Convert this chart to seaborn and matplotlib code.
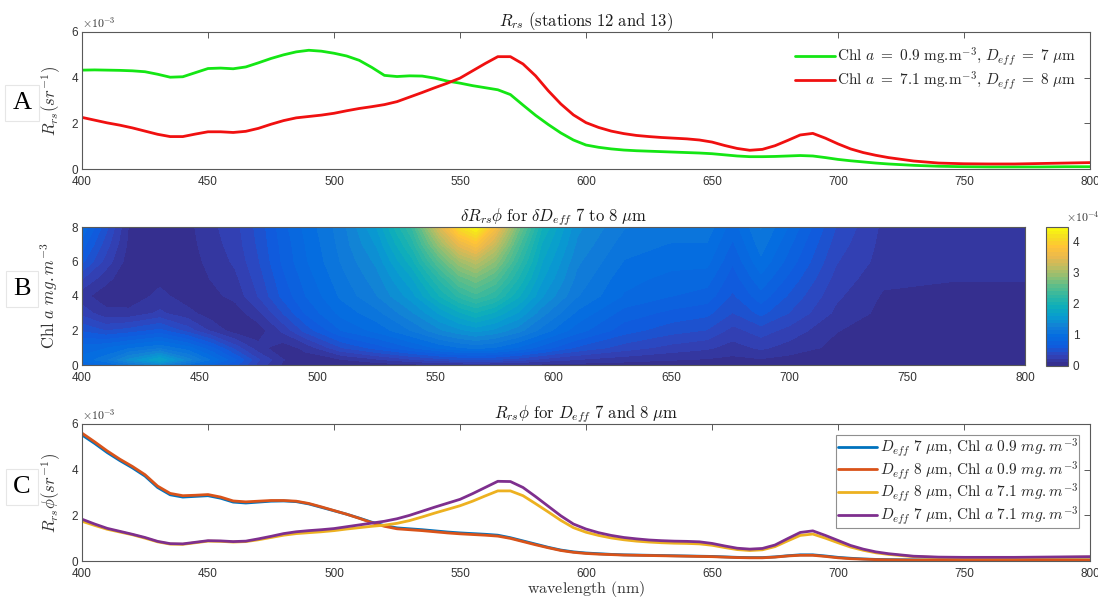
import numpy as np
import pandas as pd
import matplotlib
matplotlib.use("Agg")
import matplotlib.pyplot as plt
from matplotlib.colors import LinearSegmentedColormap
import seaborn as sns

# ---------------- data ----------------
wl = [400, 405, 410, 415, 420, 425, 430, 435, 440, 445, 450, 455, 460, 465, 470, 475,
      480, 485, 490, 495, 500, 505, 510, 515, 520, 525, 530, 535, 540, 545, 550, 555,
      560, 565, 570, 575, 580, 585, 590, 595, 600, 605, 610, 615, 620, 625, 630, 635,
      640, 645, 650, 655, 660, 665, 670, 675, 680, 685, 690, 695, 700, 705, 710, 715,
      720, 730, 740, 750, 760, 770, 780, 790, 800]

# Panel A (x1e-3)
rrs_chl09 = [4.33, 4.34, 4.33, 4.32, 4.30, 4.26, 4.15, 4.02, 4.04, 4.22, 4.40, 4.42, 4.39, 4.47, 4.65, 4.84,
             5.00, 5.13, 5.20, 5.16, 5.07, 4.95, 4.76, 4.45, 4.10, 4.05, 4.08, 4.07, 3.98, 3.85, 3.76, 3.65,
             3.56, 3.47, 3.26, 2.80, 2.35, 1.95, 1.58, 1.27, 1.05, 0.95, 0.88, 0.83, 0.80, 0.78, 0.76, 0.74,
             0.72, 0.70, 0.67, 0.62, 0.57, 0.54, 0.54, 0.55, 0.57, 0.59, 0.57, 0.50, 0.42, 0.36, 0.31, 0.26,
             0.22, 0.16, 0.12, 0.10, 0.09, 0.09, 0.09, 0.10, 0.10]
rrs_chl71 = [2.26, 2.14, 2.02, 1.92, 1.80, 1.66, 1.52, 1.42, 1.42, 1.53, 1.63, 1.63, 1.60, 1.65, 1.78, 1.96,
             2.12, 2.24, 2.30, 2.36, 2.44, 2.55, 2.65, 2.73, 2.82, 2.95, 3.15, 3.35, 3.56, 3.76, 3.98, 4.30,
             4.62, 4.92, 4.92, 4.60, 4.08, 3.43, 2.85, 2.37, 2.03, 1.82, 1.66, 1.55, 1.47, 1.42, 1.38, 1.35,
             1.32, 1.27, 1.18, 1.03, 0.90, 0.82, 0.86, 1.02, 1.25, 1.49, 1.56, 1.35, 1.10, 0.88, 0.72, 0.60,
             0.50, 0.35, 0.26, 0.23, 0.22, 0.22, 0.24, 0.26, 0.28]

# Panel C (x1e-3)
c_d7_chl09 = [5.52, 5.15, 4.75, 4.40, 4.08, 3.72, 3.22, 2.90, 2.80, 2.83, 2.86, 2.75, 2.58, 2.54, 2.58, 2.62,
              2.63, 2.60, 2.50, 2.35, 2.20, 2.05, 1.88, 1.70, 1.55, 1.45, 1.41, 1.37, 1.32, 1.27, 1.23, 1.20,
              1.17, 1.13, 1.02, 0.88, 0.74, 0.60, 0.48, 0.40, 0.35, 0.32, 0.29, 0.27, 0.26, 0.25, 0.24, 0.23,
              0.22, 0.21, 0.20, 0.18, 0.16, 0.15, 0.15, 0.18, 0.23, 0.27, 0.27, 0.22, 0.16, 0.12, 0.09, 0.07,
              0.06, 0.05, 0.05, 0.05, 0.05, 0.05, 0.05, 0.05, 0.05]
c_d8_chl09 = [5.60, 5.22, 4.82, 4.46, 4.14, 3.78, 3.28, 2.96, 2.86, 2.88, 2.91, 2.80, 2.63, 2.59, 2.62, 2.65,
              2.65, 2.62, 2.52, 2.37, 2.21, 2.05, 1.87, 1.68, 1.52, 1.41, 1.37, 1.33, 1.28, 1.23, 1.19, 1.16,
              1.13, 1.09, 0.99, 0.85, 0.71, 0.58, 0.46, 0.38, 0.33, 0.30, 0.28, 0.26, 0.25, 0.24, 0.23, 0.22,
              0.21, 0.20, 0.19, 0.17, 0.15, 0.14, 0.14, 0.17, 0.22, 0.25, 0.25, 0.20, 0.14, 0.10, 0.08, 0.06,
              0.05, 0.04, 0.04, 0.04, 0.04, 0.04, 0.04, 0.04, 0.04]
c_d8_chl71 = [1.74, 1.56, 1.39, 1.27, 1.15, 1.00, 0.84, 0.74, 0.73, 0.80, 0.87, 0.86, 0.83, 0.85, 0.93, 1.03,
              1.13, 1.20, 1.24, 1.28, 1.33, 1.40, 1.46, 1.52, 1.57, 1.65, 1.77, 1.93, 2.10, 2.26, 2.42, 2.62,
              2.85, 3.07, 3.07, 2.86, 2.51, 2.15, 1.78, 1.46, 1.26, 1.12, 1.01, 0.93, 0.87, 0.83, 0.80, 0.78,
              0.77, 0.75, 0.69, 0.59, 0.50, 0.46, 0.49, 0.63, 0.88, 1.12, 1.18, 1.00, 0.80, 0.61, 0.47, 0.36,
              0.29, 0.19, 0.15, 0.14, 0.14, 0.14, 0.15, 0.16, 0.17]
c_d7_chl71 = [1.83, 1.62, 1.43, 1.30, 1.17, 1.03, 0.86, 0.76, 0.75, 0.82, 0.89, 0.88, 0.85, 0.87, 0.97, 1.08,
              1.20, 1.28, 1.33, 1.37, 1.42, 1.50, 1.58, 1.66, 1.74, 1.85, 2.00, 2.18, 2.36, 2.53, 2.70, 2.95,
              3.22, 3.49, 3.48, 3.22, 2.82, 2.40, 1.98, 1.62, 1.40, 1.24, 1.12, 1.03, 0.97, 0.92, 0.89, 0.87,
              0.86, 0.84, 0.77, 0.66, 0.56, 0.52, 0.55, 0.70, 0.98, 1.25, 1.32, 1.12, 0.90, 0.68, 0.52, 0.40,
              0.32, 0.21, 0.17, 0.16, 0.16, 0.16, 0.17, 0.18, 0.19]

# Panel B (x1e-4): rows = chl levels (bottom to top), columns = wavelengths
wl_b = [400, 410, 420, 433, 445, 455, 465, 475, 485, 495, 510, 525, 540, 552, 560, 567, 575, 585,
        595, 610, 630, 650, 665, 676, 688, 700, 720, 740, 770, 800]
chl_b = [0, 0.3, 1, 2, 3, 4, 5, 6, 7, 8]
d_rrs = [
    [0.80, 0.90, 1.10, 1.30, 1.00, 0.80, 0.60, 0.30, 0.10, 0.03, 0.03, 0.04, 0.06, 0.08, 0.09, 0.10, 0.09, 0.08,
     0.07, 0.06, 0.05, 0.04, 0.04, 0.03, 0.04, 0.03, 0.03, 0.02, 0.02, 0.02],
    [0.95, 1.10, 1.40, 1.70, 1.30, 1.00, 0.70, 0.35, 0.12, 0.05, 0.10, 0.20, 0.32, 0.40, 0.44, 0.46, 0.44, 0.38,
     0.30, 0.22, 0.16, 0.12, 0.10, 0.08, 0.10, 0.07, 0.04, 0.02, 0.02, 0.02],
    [0.85, 0.90, 1.00, 1.10, 0.95, 0.70, 0.40, 0.15, 0.05, 0.15, 0.45, 0.62, 0.80, 0.95, 1.02, 1.06, 1.02, 0.90,
     0.75, 0.55, 0.40, 0.30, 0.25, 0.18, 0.25, 0.18, 0.08, 0.03, 0.03, 0.03],
    [0.55, 0.45, 0.50, 0.60, 0.40, 0.20, 0.05, 0.05, 0.25, 0.50, 0.80, 0.95, 1.15, 1.35, 1.45, 1.52, 1.45, 1.30,
     1.10, 0.85, 0.62, 0.50, 0.45, 0.30, 0.40, 0.30, 0.12, 0.05, 0.04, 0.04],
    [0.30, 0.15, 0.15, 0.25, 0.15, 0.05, 0.05, 0.20, 0.45, 0.70, 0.95, 1.10, 1.35, 1.62, 1.80, 1.92, 1.80, 1.58,
     1.30, 1.00, 0.75, 0.65, 0.60, 0.45, 0.60, 0.45, 0.20, 0.08, 0.05, 0.05],
    [0.15, 0.05, 0.03, 0.15, 0.05, 0.08, 0.15, 0.35, 0.60, 0.80, 1.05, 1.25, 1.55, 1.95, 2.20, 2.35, 2.20, 1.85,
     1.50, 1.15, 0.90, 0.80, 0.75, 0.55, 0.75, 0.55, 0.25, 0.10, 0.08, 0.08],
    [0.35, 0.15, 0.03, 0.08, 0.05, 0.12, 0.20, 0.40, 0.65, 0.85, 1.10, 1.32, 1.70, 2.20, 2.55, 2.70, 2.50, 2.05,
     1.62, 1.22, 0.95, 0.88, 0.85, 0.62, 0.88, 0.65, 0.30, 0.14, 0.12, 0.12],
    [0.60, 0.30, 0.05, 0.03, 0.06, 0.15, 0.25, 0.45, 0.70, 0.90, 1.15, 1.40, 1.90, 2.55, 2.95, 3.15, 2.85, 2.25,
     1.72, 1.28, 1.02, 0.95, 0.95, 0.70, 1.00, 0.75, 0.35, 0.18, 0.15, 0.15],
    [0.75, 0.40, 0.08, 0.03, 0.07, 0.18, 0.28, 0.48, 0.72, 0.92, 1.18, 1.50, 2.10, 2.95, 3.50, 3.75, 3.25, 2.45,
     1.82, 1.35, 1.08, 1.02, 1.02, 0.78, 1.08, 0.82, 0.40, 0.19, 0.18, 0.18],
    [0.90, 0.50, 0.10, 0.03, 0.08, 0.20, 0.30, 0.50, 0.75, 0.95, 1.20, 1.60, 2.30, 3.40, 4.10, 4.40, 3.70, 2.70,
     1.95, 1.40, 1.15, 1.10, 1.10, 0.85, 1.15, 0.90, 0.45, 0.20, 0.20, 0.20],
]

labels_a = [r'$\mathrm{Chl}\ a\ =\ 0.9\ \mathrm{mg}.\!\mathrm{m}^{-3}{,}\ D_{eff}\ =\ 7\ \mu\mathrm{m}$',
            r'$\mathrm{Chl}\ a\ =\ 7.1\ \mathrm{mg}.\!\mathrm{m}^{-3}{,}\ D_{eff}\ =\ 8\ \mu\mathrm{m}$']
labels_c = [r'$D_{eff}\ 7\ \mu\mathrm{m}{,}\ \mathrm{Chl}\ a\ 0.9\ mg{.}m^{-3}$',
            r'$D_{eff}\ 8\ \mu\mathrm{m}{,}\ \mathrm{Chl}\ a\ 0.9\ mg{.}m^{-3}$',
            r'$D_{eff}\ 8\ \mu\mathrm{m}{,}\ \mathrm{Chl}\ a\ 7.1\ mg{.}m^{-3}$',
            r'$D_{eff}\ 7\ \mu\mathrm{m}{,}\ \mathrm{Chl}\ a\ 7.1\ mg{.}m^{-3}$']

# ---------------- style ----------------
sns.set_theme(style="white")
plt.rcParams['font.family'] = ['Liberation Sans', 'DejaVu Sans']
plt.rcParams['mathtext.fontset'] = 'cm'

parula_pts = [
    (0.2081, 0.1663, 0.5292), (0.1959, 0.2645, 0.7279), (0.0591, 0.3598, 0.8683),
    (0.0165, 0.4266, 0.8786), (0.0779, 0.5040, 0.8384), (0.0265, 0.6137, 0.8135),
    (0.0590, 0.6838, 0.7254), (0.1801, 0.7177, 0.6424), (0.3482, 0.7424, 0.5473),
    (0.5709, 0.7485, 0.4494), (0.7525, 0.7384, 0.3768), (0.9140, 0.7258, 0.3063),
    (0.9990, 0.7653, 0.2164), (0.9626, 0.8705, 0.1309), (0.9763, 0.9831, 0.0538)]
parula = LinearSegmentedColormap.from_list("parula", parula_pts)

AX_COL = '0.35'
TICK_COL = '0.2'

fig = plt.figure(figsize=(10.98, 6.01), dpi=100)
W, H = 1098, 601

def frac(l, r, t, b):
    return [l / W, 1 - b / H, (r - l) / W, (b - t) / H]

axA = fig.add_axes(frac(82, 1090, 32, 169))
axB = fig.add_axes(frac(82, 1025, 227, 365))
cax = fig.add_axes(frac(1046, 1068, 227, 366))
axC = fig.add_axes(frac(82, 1090, 424, 561))

def style_ax(ax):
    for s in ax.spines.values():
        s.set_color(AX_COL)
        s.set_linewidth(0.8)
    ax.tick_params(direction='in', top=True, right=True, length=4, width=0.7,
                   color=AX_COL, labelcolor=TICK_COL, labelsize=8.5, pad=3)
    ax.tick_params(axis='x', pad=5)
    ax.set_xlim(400, 800)
    ax.set_xticks([400, 450, 500, 550, 600, 650, 700, 750, 800])

# ---- Panel A ----
dfA = pd.DataFrame({'wl': wl, 'g': np.array(rrs_chl09) * 1e-3, 'r': np.array(rrs_chl71) * 1e-3})
sns.lineplot(data=dfA, x='wl', y='g', ax=axA, color='#14e614', lw=2.0, label=labels_a[0])
sns.lineplot(data=dfA, x='wl', y='r', ax=axA, color='#f01010', lw=2.0, label=labels_a[1])
style_ax(axA)
axA.set_ylim(0, 6e-3)
axA.set_yticks([0, 2e-3, 4e-3, 6e-3])
axA.set_yticklabels(['0', '2', '4', '6'])
axA.set_xlabel('')
axA.set_ylabel(r'$R_{rs}(sr^{-1})$', fontsize=12, color='0.2', labelpad=6)
axA.set_title(r'$R_{rs}\ \mathrm{(stations\ 12\ and\ 13)}$', fontsize=12, color='0.1', pad=4)
axA.text(0.0, 1.012, r'$\times10^{-3}$', transform=axA.transAxes, fontsize=8.5,
         color=TICK_COL, family='DejaVu Sans', va='bottom')
axA.legend(loc='upper right', frameon=False, fontsize=11, handlelength=2.6,
           handletextpad=0.15, borderaxespad=0.5, labelspacing=0.05)

# ---- Panel B ----
Z = np.array(d_rrs) * 1e-4
levels = np.linspace(0, 4.45e-4, 40)
cs = axB.contourf(wl_b, chl_b, Z, levels=levels, cmap=parula)
style_ax(axB)
axB.set_ylim(0, 8)
axB.set_yticks([0, 2, 4, 6, 8])
axB.set_ylabel(r'$\mathrm{Chl}\ a\ mg.m^{-3}$', fontsize=12, color='0.2', labelpad=8)
axB.set_title(r'$\delta R_{rs}\phi\ \mathrm{for}\ \delta D_{eff}\ \mathrm{7\ to\ 8}\ \mu\mathrm{m}$',
              fontsize=12, color='0.1', pad=4)
cb = fig.colorbar(cs, cax=cax, ticks=[0, 1e-4, 2e-4, 3e-4, 4e-4])
cb.ax.set_yticklabels(['0', '1', '2', '3', '4'])
cb.outline.set_edgecolor(AX_COL)
cb.outline.set_linewidth(0.8)
cax.tick_params(direction='in', length=3, width=0.6, color=AX_COL, labelcolor=TICK_COL, labelsize=8.5)
cax.text(0.9, 1.02, r'$\times10^{-4}$', transform=cax.transAxes, fontsize=8.5,
         color=TICK_COL, va='bottom')

# ---- Panel C ----
dfC = pd.DataFrame({'wl': wl,
                    'a': np.array(c_d7_chl09) * 1e-3, 'b': np.array(c_d8_chl09) * 1e-3,
                    'c': np.array(c_d8_chl71) * 1e-3, 'd': np.array(c_d7_chl71) * 1e-3})
colsC = ['#0072BD', '#D95319', '#EDB120', '#7E2F8E']
for key, col, lab in zip(['a', 'b', 'c', 'd'], colsC, labels_c):
    sns.lineplot(data=dfC, x='wl', y=key, ax=axC, color=col, lw=2.0, label=lab)
style_ax(axC)
axC.set_ylim(0, 6e-3)
axC.set_yticks([0, 2e-3, 4e-3, 6e-3])
axC.set_yticklabels(['0', '2', '4', '6'])
axC.set_xlabel(r'$\mathrm{wavelength\ (nm)}$', fontsize=11.5, color='0.2', labelpad=-1)
axC.set_ylabel(r'$R_{rs}\phi(sr^{-1})$', fontsize=12, color='0.2', labelpad=6)
axC.set_title(r'$R_{rs}\phi\ \mathrm{for}\ D_{eff}\ \mathrm{7\ and\ 8}\ \mu\mathrm{m}$',
              fontsize=12, color='0.1', pad=4)
axC.text(0.0, 1.012, r'$\times10^{-3}$', transform=axC.transAxes, fontsize=8.5,
         color=TICK_COL, family='DejaVu Sans', va='bottom')
legC = axC.legend(loc='upper right', frameon=True, fancybox=False, fontsize=11,
                  handlelength=2.6, handletextpad=0.15, borderaxespad=0.7,
                  labelspacing=0.0, borderpad=0.1)
legC.get_frame().set_edgecolor('0.45')
legC.get_frame().set_linewidth(0.8)

# ---- panel letters ----
for letter, yc in [('A', 103), ('B', 289), ('C', 487)]:
    fig.text(22 / W, 1 - yc / H, letter, fontsize=19,
             family=['Liberation Serif', 'DejaVu Serif'],
             ha='center', va='center', color='black',
             bbox=dict(boxstyle='square,pad=0.28', fc='white', ec='0.9', lw=0.8))

fig.savefig('out.png', dpi=100)
